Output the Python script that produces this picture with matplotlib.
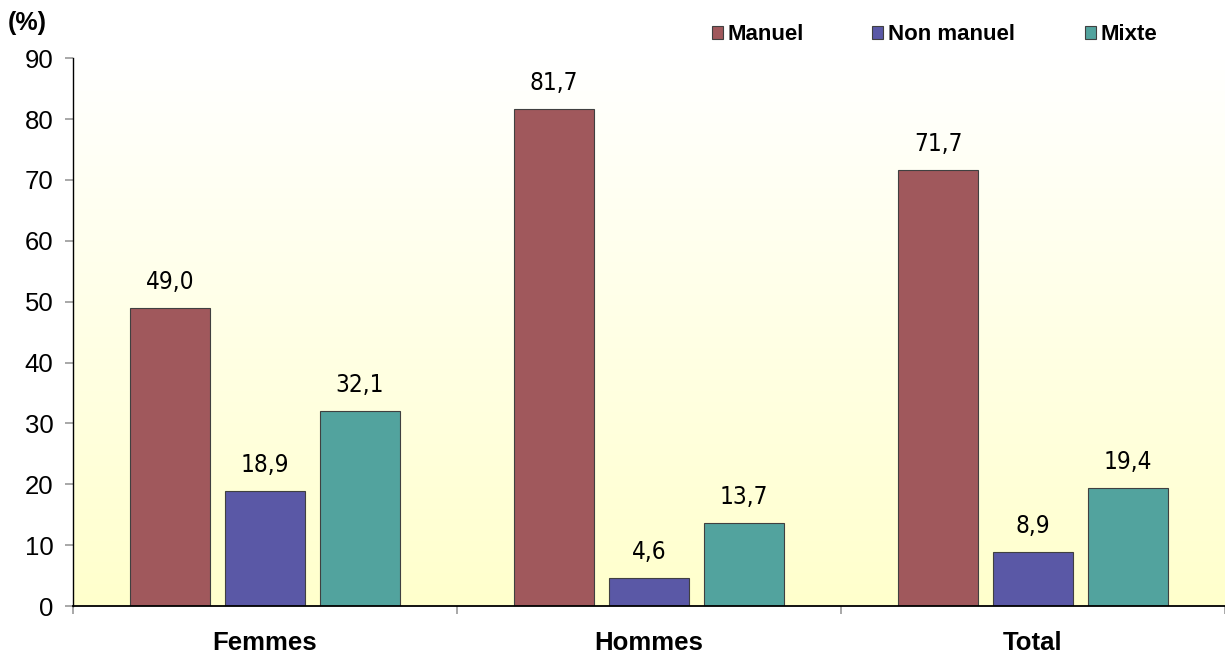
import matplotlib.pyplot as plt
import numpy as np

categories = ["Femmes", "Hommes", "Total"]
series = ["Manuel", "Non manuel", "Mixte"]
manuel = [49.0, 81.7, 71.7]
non_manuel = [18.9, 4.6, 8.9]
mixte = [32.1, 13.7, 19.4]
colors = ["#A0585C", "#5A58A6", "#52A39E"]

values = [manuel, non_manuel, mixte]
sans = ["Liberation Sans", "DejaVu Sans"]

fig = plt.figure(figsize=(12.25, 6.6), dpi=100)
ax = fig.add_axes([0.0596, 0.0818, 0.9404, 0.830])

# fond dégradé blanc -> jaune pâle
grad = np.linspace(0, 1, 256).reshape(-1, 1)
top = np.array([1.0, 1.0, 1.0])
bot = np.array([1.0, 1.0, 0.80])
img = top + (bot - top) * grad[:, :, None]
ax.imshow(img, extent=[0, 1, 0, 1], transform=ax.transAxes, aspect="auto",
          origin="upper", zorder=0)

x = np.arange(len(categories))
width = 0.208
offset = 0.247
handles = []
for i, (name, vals) in enumerate(zip(series, values)):
    pos = x + (i - 1) * offset
    bars = ax.bar(pos, vals, width, color=colors[i], edgecolor="#404040",
                  linewidth=0.8, label=name, zorder=2)
    handles.append(bars)
    for b, v in zip(bars, vals):
        ax.annotate(f"{v:.1f}".replace(".", ","),
                    (b.get_x() + b.get_width() / 2, v),
                    xytext=(0, 10), textcoords="offset points",
                    ha="center", va="bottom", fontsize=17.5,
                    family="DejaVu Sans", stretch="condensed")

ax.set_xlim(-0.5, 2.5)
ax.set_ylim(0, 90)
ax.set_yticks(range(0, 91, 10))
ax.set_xticks(x)
ax.set_xticklabels(categories, fontsize=18.5, fontweight="bold", family=sans)
ax.tick_params(axis="x", length=0, pad=18)
ax.set_xticks([-0.5, 0.5, 1.5, 2.5], minor=True)
ax.tick_params(axis="x", which="minor", length=6, color="#999999", width=1.2)
ax.tick_params(axis="y", length=6, color="#999999", width=1.2, pad=8,
               labelsize=18.5)
for lab in ax.get_yticklabels():
    lab.set_family(sans)
for s in ["top", "right"]:
    ax.spines[s].set_visible(False)
ax.spines["left"].set_linewidth(1.0)
ax.spines["bottom"].set_linewidth(1.3)

fig.text(0.006, 0.965, "(%)", fontsize=18, fontweight="bold",
         family=sans, va="center")

# légende : une entrée par colonne de largeur égale
leg_x = [0.581, 0.712, 0.886]
for h, name, lx in zip(handles, series, leg_x):
    leg = fig.legend([h], [name], loc="center left", bbox_to_anchor=(lx, 0.947),
                     frameon=False, borderpad=0, borderaxespad=0,
                     handlelength=0.5, handleheight=0.5, handletextpad=0.2,
                     prop={"family": sans, "weight": "bold", "size": 16})

fig.savefig("out.png", dpi=100)
